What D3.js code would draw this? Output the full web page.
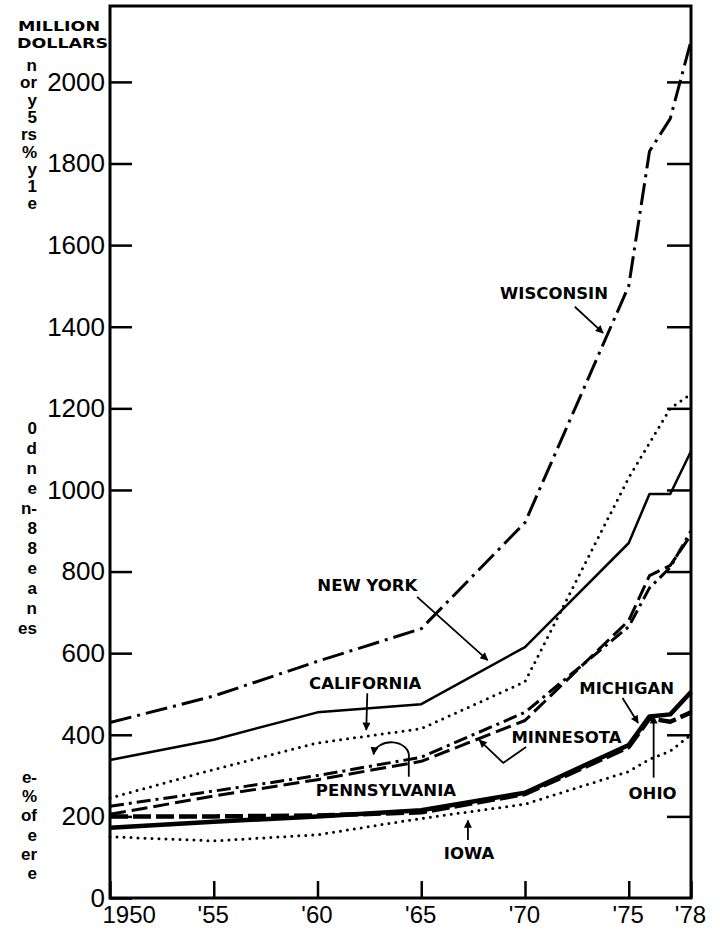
<!DOCTYPE html>
<html>
<head>
<meta charset="utf-8">
<script src="https://cdn.jsdelivr.net/npm/d3@7"></script>
<style>
  body { margin: 0; background: #fff; }
  svg { display: block; }
</style>
</head>
<body>
<div id="wrapper"></div>
<script>
// values, million dollars
let years = [1950, 1955, 1960, 1965, 1970, 1975, 1976, 1977, 1978]
let wisconsin    = [430, 495, 580, 660, 920, 1500, 1830, 1910, 2100]
let newYork      = [338, 388, 455, 475, 615, 870, 990, 990, 1095]
let california   = [245, 315, 380, 415, 530, 1030, 1115, 1200, 1235]
let pennsylvania = [225, 262, 300, 345, 455, 665, 760, 810, 900]
let minnesota    = [205, 250, 290, 335, 435, 680, 790, 815, 890]
let michigan     = [172, 187, 200, 215, 258, 375, 445, 450, 505]
let ohio         = [200, 200, 202, 210, 255, 370, 440, 432, 455]
let iowa         = [150, 140, 155, 195, 230, 310, 340, 360, 400]

let yTicks = [0, 200, 400, 600, 800, 1000, 1200, 1400, 1600, 1800, 2000]
let xTicks = [1950, 1955, 1960, 1965, 1970, 1975, 1978]
let xTickLabels = ["1950", "'55", "'60", "'65", "'70", "'75", "'78"]

// text cut off from the neighbouring page column, three paragraphs
let marginText = [
    ["n", "or", "y", "5", "rs", "%", "y", "1", "e"],
    ["0", "d", "n", "e", "n-", "8", "8", "e", "a", "n", "es"],
    ["e-", "%", "of", "e", "er", "e"]
]

let series = [
    { name: "WISCONSIN", values: wisconsin },
    { name: "NEW YORK", values: newYork },
    { name: "CALIFORNIA", values: california },
    { name: "PENNSYLVANIA", values: pennsylvania },
    { name: "MINNESOTA", values: minnesota },
    { name: "MICHIGAN", values: michigan },
    { name: "OHIO", values: ohio },
    { name: "IOWA", values: iowa }
]

let lineStyle = {
    "WISCONSIN":    { width: 3,   dash: "22 6 3 6", cap: "butt" },
    "NEW YORK":     { width: 2.5, dash: null,       cap: "butt" },
    "CALIFORNIA":   { width: 3,   dash: "0 7",      cap: "round" },
    "PENNSYLVANIA": { width: 3,   dash: "14 5 3 5", cap: "butt" },
    "MINNESOTA":    { width: 3,   dash: "16 6",     cap: "butt" },
    "MICHIGAN":     { width: 4.5, dash: null,       cap: "butt" },
    "OHIO":         { width: 4.5, dash: "18 5",     cap: "butt" },
    "IOWA":         { width: 3,   dash: "0 7",      cap: "round" }
}

// label positions and arrows in chart units (year, million dollars)
let labels = [
    { text: "WISCONSIN",    at: [1971.4, 1483], arrow: [[1972.4, 1449], [1973.76, 1385]] },
    { text: "NEW YORK",     at: [1962.4, 767],  arrow: [[1964.8, 738], [1968.2, 583]] },
    { text: "CALIFORNIA",   at: [1962.3, 527],  arrow: [[1962.4, 502], [1962.35, 412]] },
    { text: "MICHIGAN",     at: [1974.9, 515],  arrow: [[1974.7, 490], [1975.45, 429]] },
    { text: "MINNESOTA",    at: [1972.0, 395],  arrow: [[1970.05, 370], [1968.95, 331], [1967.8, 387]] },
    { text: "PENNSYLVANIA", at: [1963.3, 265],  arrow: null },
    { text: "OHIO",         at: [1976.15, 257], arrow: [[1976.2, 295], [1976.2, 445]] },
    { text: "IOWA",         at: [1967.3, 110],  arrow: [[1967.25, 142], [1967.25, 190]] }
]

function drawChart() {
    let dimensions = {
        width: 720,
        height: 930,
        margin: { top: 6, right: 29, bottom: 32, left: 110 }
    }

    let svg = d3.select("#wrapper")
        .append("svg")
        .attr("width", dimensions.width)
        .attr("height", dimensions.height)

    let x = d3.scaleLinear()
        .domain([1950, 1978])
        .range([dimensions.margin.left, dimensions.width - dimensions.margin.right])

    let y = d3.scaleLinear()
        .domain([0, 2186])
        .range([dimensions.height - dimensions.margin.bottom, dimensions.margin.top])

    svg.append("defs").append("marker")
        .attr("id", "head")
        .attr("viewBox", "0 0 10 10")
        .attr("refX", 9).attr("refY", 5)
        .attr("markerWidth", 10).attr("markerHeight", 8)
        .attr("markerUnits", "userSpaceOnUse")
        .attr("orient", "auto")
        .append("path")
        .attr("d", "M0,0 L10,5 L0,10 Z")
        .attr("fill", "black")

    // frame
    svg.append("rect")
        .attr("x", x(1950))
        .attr("y", y(2186))
        .attr("width", x(1978) - x(1950))
        .attr("height", y(0) - y(2186))
        .attr("fill", "none")
        .attr("stroke", "black")
        .attr("stroke-width", 3)

    // y axis (left, ticks inside)
    let leftAxis = svg.append("g")
        .attr("transform", `translate(${x(1950)},0)`)
        .call(d3.axisLeft(y).tickValues(yTicks).tickSize(-22).tickSizeOuter(0).tickPadding(5)
            .tickFormat(d3.format("d")))
    leftAxis.select(".domain").remove()
    leftAxis.selectAll("line").attr("stroke-width", 2.5)
    leftAxis.selectAll("text")
        .style("font-family", "'Liberation Sans', Arial, sans-serif")
        .style("font-size", "26px")
        .attr("fill", "black")

    // right side ticks
    let rightAxis = svg.append("g")
        .attr("transform", `translate(${x(1978)},0)`)
        .call(d3.axisRight(y).tickValues(yTicks.slice(1)).tickSize(-24).tickSizeOuter(0).tickFormat(""))
    rightAxis.select(".domain").remove()
    rightAxis.selectAll("line").attr("stroke-width", 2.5)

    // x axis
    let bottomAxis = svg.append("g")
        .attr("transform", `translate(0,${y(0)})`)
        .call(d3.axisBottom(x).tickValues(xTicks).tickSize(-17).tickSizeOuter(0).tickPadding(8)
            .tickFormat((d, i) => xTickLabels[i]))
    bottomAxis.select(".domain").remove()
    bottomAxis.selectAll("line").attr("stroke-width", 2.5)
    bottomAxis.selectAll("text")
        .style("font-family", "'Liberation Sans', Arial, sans-serif")
        .style("font-size", "24px")
        .attr("fill", "black")
        .attr("text-anchor", (d, i) => i == 0 ? "start" : "middle")
        .attr("dx", (d, i) => i == 0 ? "-8" : "-1")

    // unit label
    svg.append("g")
        .selectAll("text")
        .data(["MILLION", "DOLLARS"])
        .enter()
        .append("text")
        .attr("x", (d, i) => i == 0 ? x(1950) - 10 : x(1950) - 2)
        .attr("y", (d, i) => 30.5 + i * 17)
        .attr("text-anchor", "end")
        .attr("textLength", (d, i) => i == 0 ? 82 : 91)
        .attr("lengthAdjust", "spacingAndGlyphs")
        .style("font-family", "'DejaVu Sans', sans-serif")
        .style("font-weight", "bold")
        .style("font-size", "14.5px")
        .text(d => d)

    // lines
    let line = d3.line()
        .x((d, i) => x(years[i]))
        .y(d => y(d))

    svg.append("g")
        .selectAll("path")
        .data(series)
        .enter()
        .append("path")
        .attr("d", d => line(d.values))
        .attr("fill", "none")
        .attr("stroke", "black")
        .attr("stroke-width", d => lineStyle[d.name].width)
        .attr("stroke-dasharray", d => lineStyle[d.name].dash)
        .attr("stroke-linecap", d => lineStyle[d.name].cap)
        .attr("stroke-linejoin", "round")

    // state labels
    svg.append("g")
        .selectAll("text")
        .data(labels)
        .enter()
        .append("text")
        .attr("x", d => x(d.at[0]))
        .attr("y", d => y(d.at[1]))
        .attr("dy", "0.36em")
        .attr("text-anchor", "middle")
        .style("font-family", "'DejaVu Sans', sans-serif")
        .style("font-weight", "bold")
        .style("font-size", "16.5px")
        .text(d => d.text)

    // label arrows
    let arrowLine = d3.line()
        .x(d => x(d[0]))
        .y(d => y(d[1]))

    svg.append("g")
        .selectAll("path")
        .data(labels.filter(d => d.arrow))
        .enter()
        .append("path")
        .attr("d", d => arrowLine(d.arrow))
        .attr("fill", "none")
        .attr("stroke", "black")
        .attr("stroke-width", 1.8)
        .attr("marker-end", "url(#head)")

    // pennsylvania's curled pointer
    let pa = { stem: [1964.4, 297], top: [1964.4, 345], tip: [1962.7, 352] }
    svg.append("path")
        .attr("d", `M${x(pa.stem[0])},${y(pa.stem[1])} L${x(pa.top[0])},${y(pa.top[1])} ` +
            `A17,13 0 0 0 ${x(pa.tip[0])},${y(pa.tip[1])}`)
        .attr("fill", "none")
        .attr("stroke", "black")
        .attr("stroke-width", 1.8)
        .attr("marker-end", "url(#head)")

    // margin text from the facing column
    let paraTop = [71, 434, 783]
    let paraStep = [17.3, 20, 19.2]
    marginText.forEach((para, p) => {
        svg.append("g")
            .selectAll("text")
            .data(para)
            .enter()
            .append("text")
            .attr("x", 37)
            .attr("y", (d, i) => paraTop[p] + i * paraStep[p])
            .attr("text-anchor", "end")
            .style("font-family", "'Liberation Sans', Arial, sans-serif")
            .style("font-weight", "bold")
            .style("font-size", "17px")
            .text(d => d)
    })
}

drawChart()
</script>
</body>
</html>
